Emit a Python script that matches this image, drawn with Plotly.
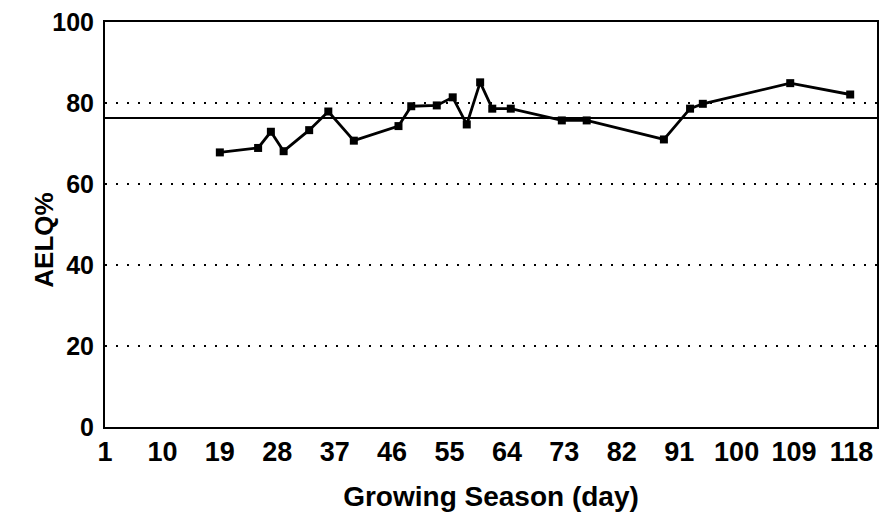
import plotly.graph_objects as go

days = [19, 25, 27, 29, 33, 36, 40, 47, 49, 53, 55.5, 57.7, 59.8, 61.7, 64.6, 72.6, 76.5, 88.6, 92.7, 94.7, 108.4, 117.8]
aelq = [67.8, 68.9, 72.9, 68.1, 73.3, 77.9, 70.7, 74.3, 79.2, 79.4, 81.4, 74.7, 85.1, 78.6, 78.6, 75.7, 75.7, 71.0, 78.6, 79.8, 84.9, 82.1]
mean_level = 76.3
x_ticks = [1, 10, 19, 28, 37, 46, 55, 64, 73, 82, 91, 100, 109, 118]
y_ticks = [0, 20, 40, 60, 80, 100]

font = dict(family="Liberation Sans, Arial, sans-serif", color="black", size=27, weight="bold")

fig = go.Figure()
fig.add_trace(go.Scatter(
    x=days, y=aelq, mode="lines+markers",
    line=dict(color="black", width=2.8),
    marker=dict(symbol="square", size=8, color="black"),
    showlegend=False,
))
fig.add_hline(y=mean_level, line=dict(color="black", width=2))

fig.update_layout(
    width=879, height=510,
    margin=dict(l=97, r=10, t=14, b=91),
    paper_bgcolor="white", plot_bgcolor="white",
    font=font,
    showlegend=False,
    annotations=[dict(
        text="AELQ%", xref="paper", yref="paper", x=-0.079, y=0.46,
        xanchor="center", yanchor="middle", textangle=-90, showarrow=False,
        font=dict(size=26, weight="bold"),
    )],
)
fig.update_xaxes(
    range=[1, 122], tickmode="array", tickvals=x_ticks,
    ticktext=[str(t) for t in x_ticks],
    showgrid=False, zeroline=False,
    showline=True, linecolor="black", linewidth=2, mirror=True,
    ticks="", ticklabelstandoff=0, automargin=False, ticklabeloverflow="allow",
    title=dict(text="Growing Season (day)", font=dict(size=28, weight="bold"), standoff=20),
)
fig.update_yaxes(
    range=[0, 100], tickmode="array", tickvals=y_ticks,
    tickfont=dict(size=25),
    showgrid=True, gridcolor="black", gridwidth=1.5, griddash="2px,9px",
    zeroline=False,
    showline=True, linecolor="black", linewidth=2, mirror=True,
    ticks="", ticklabelstandoff=4, automargin=False, ticklabeloverflow="allow",
)

fig.write_html("out.html")
